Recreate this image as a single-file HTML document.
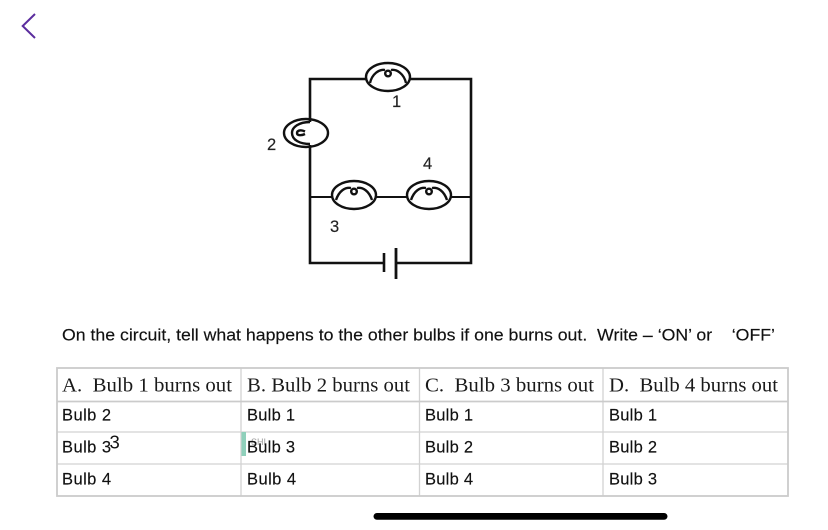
<!DOCTYPE html>
<html lang="en">
<head>
<meta charset="utf-8">
<title>Circuit bulbs worksheet</title>
<style>
html,body{margin:0;padding:0;background:#fff;width:828px;height:530px;overflow:hidden}
svg{display:block}
.s{font-family:"Liberation Sans",sans-serif;font-size:16.5px;fill:#111;stroke:#111;stroke-width:.15}
.h{font-family:"Liberation Serif",serif;font-size:20px;fill:#1a1a1a}
.n{font-family:"Liberation Sans",sans-serif;font-size:16.5px;fill:#222;stroke:#222;stroke-width:.15}
.w{fill:none;stroke:#111;stroke-width:2.6}
.b{fill:none;stroke:#111;stroke-width:2.4}
.g{stroke:#d2d2d2;stroke-width:1.3;fill:none}
</style>
</head>
<body>
<svg width="828" height="530" viewBox="0 0 828 530" xmlns="http://www.w3.org/2000/svg">
<rect width="828" height="530" fill="#fff"/>
<path d="M35 14L22.700 26L35 38" fill="none" stroke="#5b2d9e" stroke-width="2"/>

<!-- wires -->
<path class="w" d="M366 79H310V122"/>
<path class="w" d="M310 145V263H384"/>
<path class="w" d="M410 79H471V263H396"/>
<path d="M310 197H332M376 197H407M451 197H471" fill="none" stroke="#111" stroke-width="2"/>
<path d="M384 253V272" stroke="#111" stroke-width="2.600"/>
<path d="M396 248V279" stroke="#111" stroke-width="2.800"/>

<!-- bulb 1 -->
<g transform="translate(388 77)">
<ellipse class="b" rx="22" ry="14"/>
<path class="b" d="M-18 6C-16 -3 -9 -8 -3 -7M3 -7C9 -8 16 -3 18 6"/>
<circle class="b" cy="-3.500" r="2.800" stroke-width="2"/>
</g>
<!-- bulb 2 -->
<g transform="translate(306 133)">
<ellipse class="b" rx="22" ry="14"/>
<path class="b" d="M4 -11C-7 -11 -14 -6 -14 0C-14 7 -6 11 4 11"/>
<path class="b" stroke-width="2" d="M-1 -1.500C-6 -4 -9 -2 -9 0C-9 3 -4 2.500 -1 1"/>
</g>
<!-- bulb 3 -->
<g transform="translate(354 195)">
<ellipse class="b" rx="22" ry="14"/>
<path class="b" d="M-18 5C-15 -4 -9 -8 -3 -7M3 -7C9 -8 15 -4 18 5"/>
<circle class="b" cy="-3.500" r="2.800" stroke-width="2"/>
</g>
<!-- bulb 4 -->
<g transform="translate(429 195)">
<ellipse class="b" rx="22" ry="14"/>
<path class="b" d="M-18 5C-15 -4 -9 -8 -3 -7M3 -7C9 -8 15 -4 18 5"/>
<circle class="b" cy="-3.500" r="2.800" stroke-width="2"/>
</g>

<text class="n" x="392" y="107">1</text>
<text class="n" x="267" y="150">2</text>
<text class="n" x="330" y="232">3</text>
<text class="n" x="423" y="169">4</text>

<text class="s" x="62" y="340.500" xml:space="preserve" textLength="713" lengthAdjust="spacingAndGlyphs" style="font-size:17px">On the circuit, tell what happens to the other bulbs if one burns out.  Write – ‘ON’ or    ‘OFF’</text>

<!-- table -->
<path class="g" d="M57 432H788M57 464H788M241 368V496M419.500 368V496M603 368V496"/>
<path d="M57 401.500H788" stroke="#cbcbcb" stroke-width="1.800" fill="none"/>
<rect x="57" y="368" width="731" height="128" fill="none" stroke="#cbcbcb" stroke-width="1.800"/>

<text class="h" x="62" y="391.500" xml:space="preserve" textLength="170" lengthAdjust="spacingAndGlyphs">A.  Bulb 1 burns out</text>
<text class="h" x="247" y="391.500" textLength="163" lengthAdjust="spacingAndGlyphs">B. Bulb 2 burns out</text>
<text class="h" x="425" y="391.500" xml:space="preserve" textLength="169" lengthAdjust="spacingAndGlyphs">C.  Bulb 3 burns out</text>
<text class="h" x="609" y="391.500" xml:space="preserve" textLength="169" lengthAdjust="spacingAndGlyphs">D.  Bulb 4 burns out</text>

<rect x="241.500" y="432" width="4.500" height="24" fill="#8fd0bb"/>
<text x="251" y="445" font-family="Liberation Sans, sans-serif" font-size="9" fill="#999">SHI</text>

<text class="s" x="62" y="420.500" textLength="49">Bulb 2</text>
<text class="s" x="62" y="452.500" textLength="49">Bulb 3</text>
<text class="s" x="62" y="484.500" textLength="49">Bulb 4</text>
<text x="109.500" y="448.500" font-family="Liberation Sans, sans-serif" font-size="18.500" fill="#111">3</text>

<text class="s" x="247" y="420.500" textLength="48">Bulb 1</text>
<text class="s" x="247" y="452.500" textLength="48">Bulb 3</text>
<text class="s" x="247" y="484.500" textLength="49">Bulb 4</text>

<text class="s" x="425" y="420.500" textLength="48">Bulb 1</text>
<text class="s" x="425" y="452.500" textLength="48">Bulb 2</text>
<text class="s" x="425" y="484.500" textLength="48">Bulb 4</text>

<text class="s" x="609" y="420.500" textLength="48">Bulb 1</text>
<text class="s" x="609" y="452.500" textLength="48">Bulb 2</text>
<text class="s" x="609" y="484.500" textLength="48">Bulb 3</text>

<rect x="373.500" y="513" width="294" height="6.800" rx="3.400" fill="#000"/>
</svg>
</body>
</html>
